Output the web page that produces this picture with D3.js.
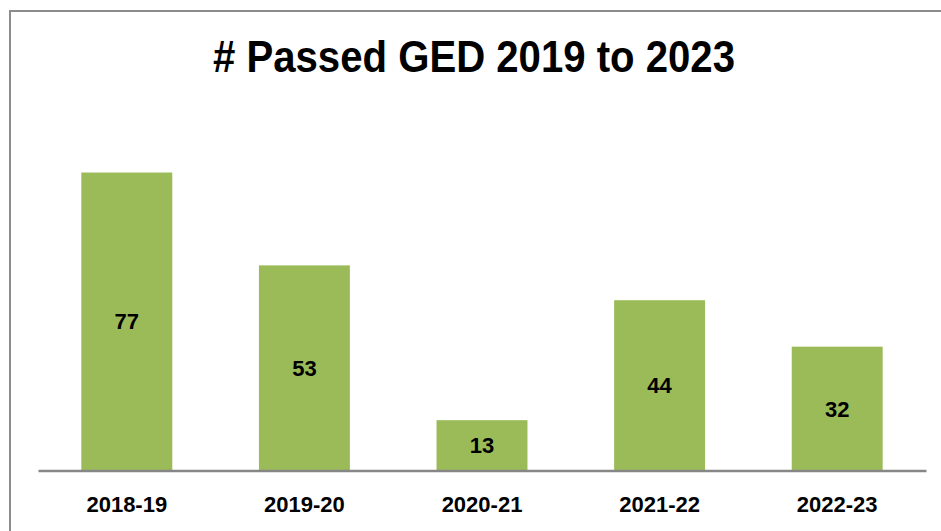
<!DOCTYPE html>
<html>
<head>
<meta charset="utf-8">
<script src="https://cdn.jsdelivr.net/npm/d3@7"></script>
<style>
  body { margin: 0; background: #fff; }
  svg { display: block; }
</style>
</head>
<body>
<div id="chart"></div>
<script>
var width = 941
var height = 531

// data
var seasons = ["2018-19", "2019-20", "2020-21", "2021-22", "2022-23"]
var passed = [77, 53, 13, 44, 32]
var title = "# Passed GED 2019 to 2023"

var svg = d3.select("#chart")
    .append("svg")
    .attr("width", width)
    .attr("height", height)

// chart frame (right and bottom edges run off the picture)
svg.append("rect")
    .attr("x", 10)
    .attr("y", 11)
    .attr("width", 1000)
    .attr("height", 1000)
    .attr("fill", "white")
    .attr("stroke", "#8c8c8c")
    .attr("stroke-width", 2)

var plotLeft = 38, plotRight = 926, plotBottom = 470.5

var x = d3.scaleBand()
    .domain(seasons)
    .range([plotLeft, plotRight])
    .paddingInner(0.488)
    .paddingOuter(0.244)

var y = d3.scaleLinear()
    .domain([0, 90])
    .range([plotBottom, plotBottom - 3.87 * 90])

var font = "'Liberation Sans', Arial, sans-serif"

// title
svg.append("text")
    .attr("x", 474)
    .attr("y", 72)
    .attr("text-anchor", "middle")
    .attr("textLength", 522)
    .attr("lengthAdjust", "spacingAndGlyphs")
    .style("font-family", font)
    .style("font-weight", "bold")
    .style("font-size", "44px")
    .text(title)

var rows = seasons.map(function(s, i) { return {key: s, value: passed[i]} })

// bars
svg.selectAll("rect.bar")
    .data(rows)
    .enter()
    .append("rect")
    .attr("class", "bar")
    .attr("x", function(d) { return x(d.key) })
    .attr("width", x.bandwidth())
    .attr("y", function(d) { return y(d.value) })
    .attr("height", function(d) { return y(0) - y(d.value) })
    .attr("fill", "#9bbb59")

// value labels, centred in each bar
svg.selectAll("text.val")
    .data(rows)
    .enter()
    .append("text")
    .attr("class", "val")
    .attr("x", function(d) { return x(d.key) + x.bandwidth() / 2 })
    .attr("y", function(d) { return (y(d.value) + y(0)) / 2 })
    .attr("dy", "0.36em")
    .attr("text-anchor", "middle")
    .style("font-family", font)
    .style("font-weight", "bold")
    .style("font-size", "22px")
    .text(function(d) { return d.value })

// x axis
var xAxis = svg.append("g")
    .attr("transform", "translate(0," + plotBottom + ")")
    .call(d3.axisBottom(x).tickSize(0).tickPadding(26))

xAxis.select(".domain")
    .attr("stroke", "#868686")
    .attr("stroke-width", 2.5)

xAxis.selectAll("text")
    .style("font-family", font)
    .style("font-weight", "bold")
    .style("font-size", "22px")
    .attr("fill", "#000")
</script>
</body>
</html>
